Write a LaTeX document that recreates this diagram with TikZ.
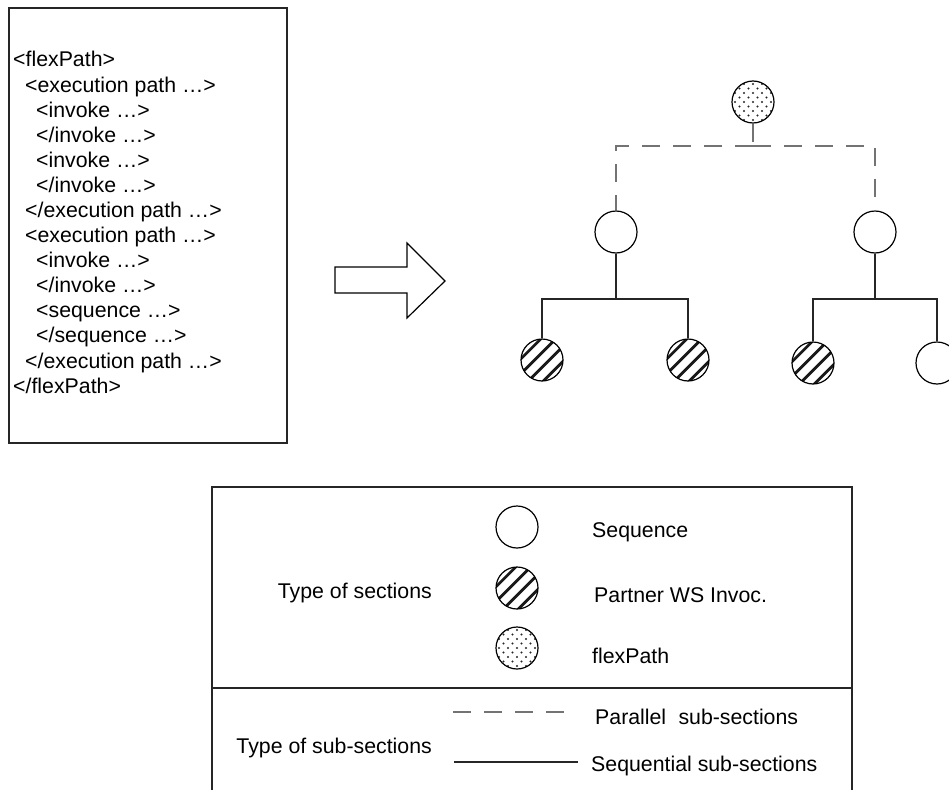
\documentclass[tikz,border=0pt]{standalone}
\usepackage{fontspec}
\setmainfont{Liberation Sans}
\begin{document}
\begin{tikzpicture}[x=1pt,y=-1pt,
  txt/.style={inner sep=0pt, anchor=base west, font=\fontsize{21.3}{25}\selectfont},
  txtr/.style={txt, anchor=base east},
  frame/.style={draw=black!85, line width=1.1pt},
  sec/.style={circle, draw=black, line width=1.2pt, minimum size=42pt, inner sep=0pt, fill=white},
  hatched/.style={sec, path picture={
      \foreach \k in {-1.5,-0.5,0.5,1.5}{
        \draw[line width=2.8pt, black!90]
          ([shift={(\k*14.85pt-30pt,-30pt)}]path picture bounding box.center) -- ++(60pt,60pt);
      }}},
  dotted circle/.style={sec, path picture={
      \foreach \i in {-2,...,2}{
        \foreach \j in {-2,...,2}{
          \fill[black!85] ([shift={(\i*9pt,\j*9pt)}]path picture bounding box.center) circle (1.2pt);
          \fill[black!85] ([shift={(\i*9pt+4.5pt,\j*9pt+4.5pt)}]path picture bounding box.center) circle (1.2pt);
        }}}},
  seqline/.style={draw=black!85, line width=2pt},
  parline/.style={draw=black!55, line width=1.6pt, dash pattern=on 18pt off 13pt}
]
\useasboundingbox (0,0) rectangle (949,789);
\clip (0,0) rectangle (949,789);

% ---- XML listing ----
\draw[frame] (9,8) rectangle (287,443);
\node[txt] (x1)  at (13,67)     {<flexPath>};
\node[txt] (x2)  at (25,92.1)   {<execution path …>};
\node[txt] (x3)  at (36,117.2)  {<invoke …>};
\node[txt] (x4)  at (36,142.2)  {</invoke …>};
\node[txt] (x5)  at (36,167.3)  {<invoke …>};
\node[txt] (x6)  at (36,192.4)  {</invoke …>};
\node[txt] (x7)  at (25,217.5)  {</execution path …>};
\node[txt] (x8)  at (25,242.6)  {<execution path …>};
\node[txt] (x9)  at (36,267.6)  {<invoke …>};
\node[txt] (x10) at (36,292.7)  {</invoke …>};
\node[txt] (x11) at (36,317.8)  {<sequence …>};
\node[txt] (x12) at (36,342.9)  {</sequence …>};
\node[txt] (x13) at (25,368)    {</execution path …>};
\node[txt] (x14) at (13,393)    {</flexPath>};

% ---- transformation arrow ----
\draw[line width=1.2pt, fill=white, line join=miter]
  (335,267) -- (407,267) -- (407,243) -- (445,281) -- (407,318) -- (407,293) -- (335,293) -- cycle;

% ---- section tree ----
\node[dotted circle] (fp) at (753,102) {};
\node[sec] (s1) at (616,232) {};
\node[sec] (s2) at (875,232) {};
\node[hatched] (l1) at (542,360) {};
\node[hatched] (l2) at (688,360) {};
\node[hatched] (l3) at (813,363) {};
\node[sec] (l4) at (937,363) {};

\coordinate (pj) at (753,146);
\coordinate (j1) at (616,299);
\coordinate (j2) at (875,299);

\draw[parline] (fp.south) -- (pj);
\draw[parline] (pj) -| (s1.north);
\draw[parline] (pj) -| (s2.north);

\draw[seqline] (s1.south) -- (j1);
\draw[seqline] (j1) -| (l1.north);
\draw[seqline] (j1) -| (l2.north);
\draw[seqline] (s2.south) -- (j2);
\draw[seqline] (j2) -| (l3.north);
\draw[seqline] (j2) -| (l4.north);

% ---- legend ----
\draw[frame] (212,487) rectangle (852,795);
\draw[frame] (212,688) -- (852,688);

\node[txtr] (tsec) at (432,598) {Type of sections};
\node[sec] (kseq) at (517,527) {};
\node[hatched] (kinv) at (517,588) {};
\node[dotted circle] (kfp) at (517,648) {};
\node[txt] (lseq) at (592,537) {Sequence};
\node[txt] (linv) at (594,602) {Partner WS Invoc.};
\node[txt] (lfp)  at (592,663) {flexPath};

\node[txtr] (tsub) at (432,753) {Type of sub-sections};
\coordinate (pa) at (453,712);
\coordinate (pb) at (566,712);
\coordinate (qa) at (454,762);
\coordinate (qb) at (578,762);
\draw[parline] (pa) -- (pb);
\draw[seqline, line width=1.6pt] (qa) -- (qb);
\node[txt] (lpar) at (595,724) {Parallel\hspace{0.3em} sub-sections};
\node[txt] (lsq)  at (591,771) {Sequential sub-sections};
\end{tikzpicture}
\end{document}
